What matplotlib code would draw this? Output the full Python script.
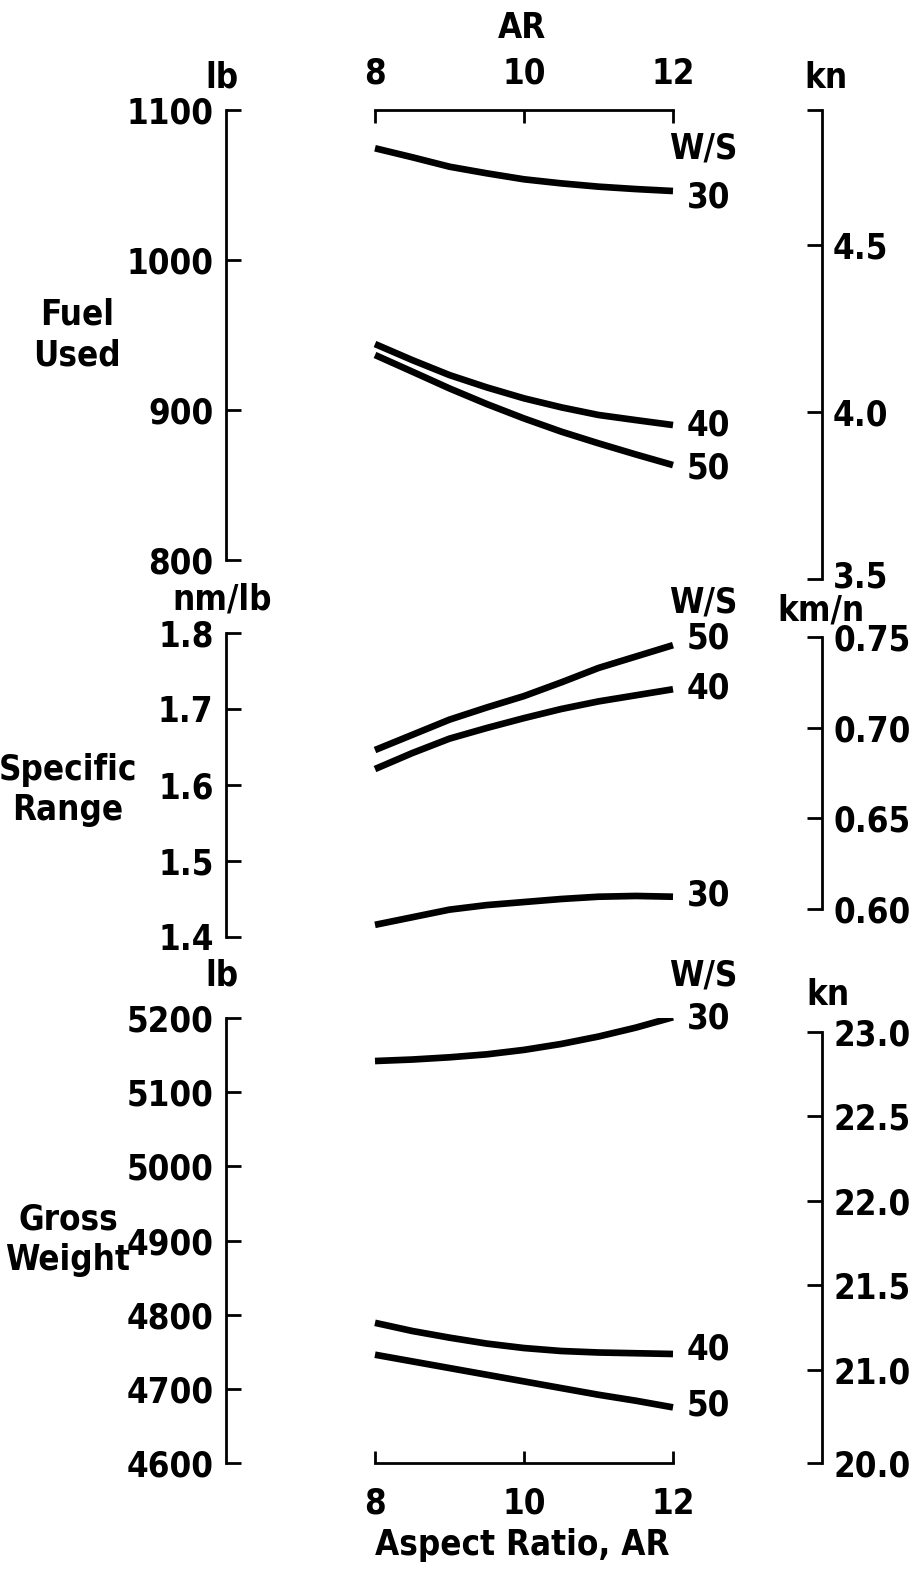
import matplotlib.pyplot as plt
import matplotlib.transforms as mtransforms

# curvas: W/S = 30, 40, 50
ar = [8, 8.5, 9, 9.5, 10, 10.5, 11, 11.5, 12]
ws = ['30', '40', '50']

fuel_30 = [1074.5, 1068.5, 1062.2, 1057.8, 1053.8, 1051.1, 1048.9, 1047.3, 1046.0]
fuel_40 = [944.0, 933.3, 923.3, 915.1, 907.8, 901.8, 896.7, 893.3, 890.0]
fuel_50 = [936.7, 925.6, 914.4, 904.0, 894.4, 885.6, 877.8, 870.4, 863.3]

sr_30 = [1.416, 1.426, 1.436, 1.442, 1.446, 1.450, 1.453, 1.454, 1.453]
sr_40 = [1.621, 1.642, 1.661, 1.675, 1.688, 1.700, 1.710, 1.718, 1.726]
sr_50 = [1.646, 1.666, 1.686, 1.702, 1.717, 1.735, 1.754, 1.769, 1.784]

gw_30 = [5142, 5144, 5147, 5151, 5157, 5165, 5175, 5187, 5201]
gw_40 = [4789, 4778, 4769, 4761, 4755, 4751, 4749, 4748, 4747]
gw_50 = [4746, 4737, 4728, 4719, 4710, 4701, 4692, 4684, 4675]

ar_ticks = [8, 10, 12]

fuel_ticks = [800, 900, 1000, 1100]
fuel_kn_ticks = [3.5, 4.0, 4.5]
sr_ticks = [1.4, 1.5, 1.6, 1.7, 1.8]
sr_km_ticks = [0.60, 0.65, 0.70, 0.75]
gw_ticks = [4600, 4700, 4800, 4900, 5000, 5100, 5200]
gw_kn_ticks = [21.0, 21.5, 22.0, 22.5, 23.0]
gw_kn_labels = ['20.0', '21.0', '21.5', '22.0', '22.5', '23.0']

plt.rcParams['font.family'] = 'DejaVu Sans'
plt.rcParams['font.stretch'] = 'condensed'
plt.rcParams['font.weight'] = 'bold'
FS = 25
LW = 2.0

W, H = 921, 1573
fig = plt.figure(figsize=(W / 100, H / 100), dpi=100)


def box(top, bottom):
    return [226 / W, 1 - bottom / H, 596 / W, (bottom - top) / H]


def ftext(x, y, s, **kw):
    fig.text(x / W, 1 - y / H, s, ha='center', va='center', fontsize=FS,
             linespacing=1.25, **kw)


def panel(top, bottom, curves, offs, llim, lticks, lfmt, rlim, rticks, rlabels, rbounds):
    ax = fig.add_axes(box(top, bottom))
    ax.set_xlim(6, 14)
    ax.set_ylim(*llim)
    for ys, lab, dy in zip(curves, ws, offs):
        ax.plot(ar, ys, color='black', lw=4.8, solid_capstyle='butt')
        ax.annotate(lab, xy=(ar[-1], ys[-1]), xytext=(14, -dy),
                    textcoords='offset pixels', ha='left', va='center',
                    fontsize=FS, annotation_clip=False)
    for s in ['top', 'bottom', 'right']:
        ax.spines[s].set_visible(False)
    ax.spines['left'].set_linewidth(LW)
    ax.spines['left'].set_bounds(lticks[0], lticks[-1])
    ax.set_yticks(lticks)
    ax.set_yticklabels([lfmt.format(v) for v in lticks])
    ax.tick_params(axis='y', direction='in', length=11, width=LW, pad=9, labelsize=FS)
    ax.set_xticks([])
    ax.patch.set_visible(False)

    rx = ax.twinx()
    rx.set_ylim(*rlim)
    for s in ['top', 'bottom', 'left']:
        rx.spines[s].set_visible(False)
    rx.spines['right'].set_linewidth(LW)
    rx.spines['right'].set_bounds(*rbounds)
    rx.set_yticks(rticks)
    rx.set_yticklabels(rlabels)
    rx.tick_params(axis='y', direction='in', length=11, width=LW, pad=8, labelsize=FS)
    return ax, rx


# Fuel used
ax1, rx1 = panel(110, 580, [fuel_30, fuel_40, fuel_50], [6, 0, 3],
                 (786.7, 1100), fuel_ticks, '{:d}',
                 (3.497, 4.904), fuel_kn_ticks + [4.904],
                 ['{:.1f}'.format(v) for v in fuel_kn_ticks] + [''], (3.5, 4.904))
ax1.spines['top'].set_visible(True)
ax1.spines['top'].set_linewidth(LW)
ax1.spines['top'].set_bounds(ar_ticks[0], ar_ticks[-1])
ax1.xaxis.set_ticks_position('top')
ax1.set_xticks(ar_ticks)
ax1.set_xticklabels([str(v) for v in ar_ticks])
ax1.tick_params(axis='x', direction='in', length=9, width=LW, pad=14, labelsize=FS)

# subir un poco la etiqueta 3.5 como en el original
lab35 = rx1.yaxis.get_majorticklabels()[0]
lab35.set_transform(lab35.get_transform() +
                    mtransforms.ScaledTranslation(0, 5 / 100, fig.dpi_scale_trans))

# Specific range
ax2, rx2 = panel(633, 937, [sr_30, sr_40, sr_50], [-1, -1, -7],
                 (1.4, 1.8), sr_ticks, '{:.1f}',
                 (0.5846, 0.7522), sr_km_ticks,
                 ['{:.2f}'.format(v) for v in sr_km_ticks], (0.60, 0.75))

# Gross weight
ax3, rx3 = panel(1018, 1463, [gw_30, gw_40, gw_50], [1, -4, -2],
                 (4600, 5200), gw_ticks, '{:d}',
                 (20.45, 23.08), [20.45] + gw_kn_ticks, gw_kn_labels, (20.45, 23.0))
ax3.spines['bottom'].set_visible(True)
ax3.spines['bottom'].set_linewidth(LW)
ax3.spines['bottom'].set_bounds(ar_ticks[0], ar_ticks[-1])
ax3.xaxis.set_ticks_position('bottom')
ax3.set_xticks(ar_ticks)
ax3.set_xticklabels([str(v) for v in ar_ticks])
ax3.tick_params(axis='x', direction='in', length=9, width=LW, pad=17, labelsize=FS)

# textos
ftext(522, 28, 'AR')
ftext(222, 78, 'lb')
ftext(826, 78, 'kn')
ftext(703, 148, 'W/S')
ftext(77, 335, 'Fuel\nUsed')

ftext(222, 600, 'nm/lb')
ftext(821, 610, 'km/n')
ftext(703, 603, 'W/S')
ftext(68, 790, 'Specific\nRange')

ftext(222, 975, 'lb')
ftext(828, 995, 'kn')
ftext(703, 975, 'W/S')
ftext(68, 1240, 'Gross\nWeight')

ftext(522, 1545, 'Aspect Ratio, AR')

fig.savefig('out.png', dpi=100)
